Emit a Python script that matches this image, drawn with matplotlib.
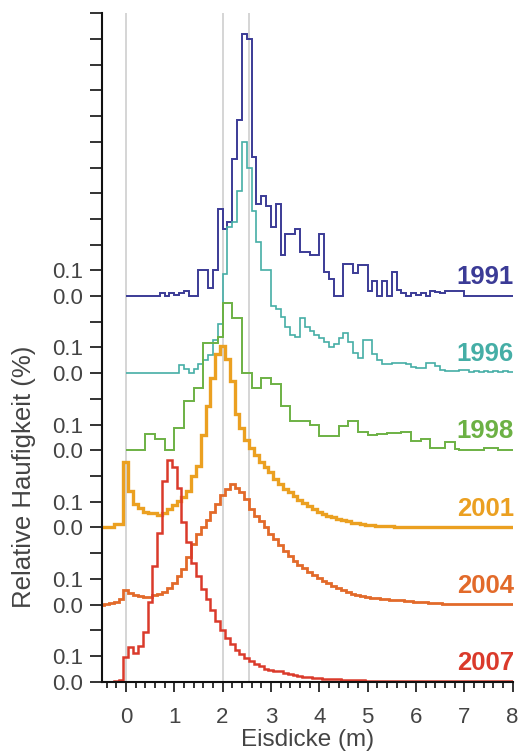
import numpy as np
import matplotlib
matplotlib.use("Agg")
import matplotlib.pyplot as plt

plt.rcParams['font.family'] = ['Liberation Sans', 'DejaVu Sans']

years = ["1991", "1996", "1998", "2001", "2004", "2007"]
offsets = [1.5, 1.2, 0.9, 0.6, 0.3, 0.0]
colors = ["#3b3b96", "#45aea6", "#6cb144", "#eba021", "#e26a2a", "#da3a2b"]
widths = [1.4, 1.2, 1.4, 2.4, 2.0, 1.8]

# bins of 0.1 m starting at 0.0 (1991, 1996, 1998)
start_a = 0.0
v1991 = [0, 0, 0, 0, 0, 0, 0,
         0.01, 0.0, 0.01, 0.005, 0.01, 0.02, 0.0, 0.0,
         0.10, 0.10, 0.03, 0.10, 0.34, 0.26, 0.29, 0.535, 0.684, 1.02,
         1.00, 0.54, 0.36, 0.39, 0.35, 0.27, 0.36, 0.16, 0.24, 0.24,
         0.26, 0.17, 0.17, 0.16, 0.16, 0.24, 0.095, 0.068, 0.0, 0.0,
         0.123, 0.123, 0.088, 0.12, 0.12, 0.02, 0.06, 0.0, 0.06, 0.0,
         0.095, 0.025, 0.01, 0.0, 0.01, 0.005, 0.01, 0.0, 0.02, 0.015,
         0.01, 0.02, 0.02, 0.02, 0.02,
         0, 0, 0, 0, 0, 0, 0, 0, 0, 0]
v1996 = [0, 0, 0, 0, 0, 0, 0, 0, 0, 0,
         0.0, 0.03, 0.015, 0.0, 0.015, 0.035, 0.05, 0.07, 0.13, 0.19,
         0.385, 0.57, 0.59, 0.71, 0.90, 0.80, 0.63, 0.51, 0.40, 0.40,
         0.26, 0.25, 0.22, 0.18, 0.15, 0.14, 0.215, 0.18, 0.165, 0.15,
         0.137, 0.12, 0.10, 0.115, 0.137, 0.157, 0.12, 0.08, 0.06, 0.131,
         0.131, 0.073, 0.05, 0.034, 0.034, 0.04, 0.04, 0.04, 0.034, 0.025,
         0.021, 0.021, 0.04, 0.04, 0.027, 0.014, 0.01, 0.008, 0.008, 0.014,
         0.014, 0.005, 0.01, 0.005, 0.01, 0.005, 0.01, 0.005, 0.01, 0.005]
v1998 = [0, 0, 0, 0,
         0.062, 0.062, 0.045, 0.045, 0.0, 0.0, 0.088, 0.088, 0.19, 0.19,
         0.243, 0.243, 0.418, 0.418, 0.418, 0.44, 0.574, 0.574, 0.516, 0.516,
         0.30, 0.30, 0.243, 0.243, 0.283, 0.283, 0.257, 0.257, 0.172, 0.172,
         0.114, 0.114, 0.114, 0.114, 0.098, 0.098, 0.056, 0.056, 0.056, 0.056,
         0.094, 0.094, 0.114, 0.114, 0.072, 0.072, 0.06, 0.06, 0.062, 0.062,
         0.066, 0.066, 0.066, 0.072, 0.072, 0.036, 0.036, 0.043, 0.043, 0.01,
         0.01, 0.01, 0.032, 0.032, 0.005, 0.0, 0.0, 0.0, 0.0, 0.0,
         0.01, 0.01, 0.01, 0.0, 0.0, 0.0]

# bins of 0.1 m centred on -0.5 ... 8.0 (2001, 2004, 2007)
start_b = -0.55
v2001 = [0, 0, 0, 0.012, 0.015, 0.253, 0.143, 0.09, 0.075, 0.062,
         0.058, 0.055, 0.05, 0.055, 0.07, 0.088, 0.104, 0.117, 0.143, 0.2,
         0.24, 0.36, 0.473, 0.58, 0.674, 0.707, 0.654, 0.57, 0.44, 0.387,
         0.34, 0.31, 0.28, 0.255, 0.235, 0.215, 0.19, 0.168, 0.149, 0.136,
         0.123, 0.105, 0.094, 0.082, 0.07, 0.06, 0.054, 0.046, 0.039, 0.033,
         0.028, 0.024, 0.019, 0.016, 0.012, 0.01, 0.008, 0.007, 0.006, 0.005,
         0.004, 0.003, 0.003, 0.003, 0.003, 0.003, 0.002, 0.002,
         0.001, 0.001, 0.001, 0.001, 0.001, 0.001, 0.001, 0.001, 0.001,
         0.001, 0.001, 0.001, 0.001, 0.001, 0.001, 0.001, 0.001, 0.001]
v2004 = [0.0, 0.003, 0.006, 0.01, 0.02, 0.058, 0.045, 0.038, 0.032, 0.03,
         0.03, 0.036, 0.042, 0.05, 0.065, 0.085, 0.11, 0.14, 0.185, 0.235,
         0.275, 0.3, 0.33, 0.36, 0.39, 0.425, 0.45, 0.469, 0.455, 0.436,
         0.41, 0.37, 0.345, 0.325, 0.3, 0.275, 0.255, 0.232, 0.21, 0.19,
         0.17, 0.155, 0.142, 0.128, 0.115, 0.102, 0.092, 0.083, 0.074, 0.065,
         0.056, 0.049, 0.043, 0.038, 0.034, 0.03, 0.027, 0.024, 0.022, 0.02,
         0.019, 0.018, 0.016, 0.014, 0.013, 0.011, 0.01, 0.009, 0.008, 0.006,
         0.005, 0.004, 0.004,
         0.003, 0.003, 0.003, 0.003, 0.003, 0.003, 0.003, 0.003,
         0.002, 0.002, 0.002, 0.002, 0.002]
v2007 = [0, 0, 0, 0.003, 0.008, 0.095, 0.136, 0.112, 0.14, 0.195,
         0.311, 0.45, 0.58, 0.78, 0.862, 0.836, 0.752, 0.62, 0.545, 0.46,
         0.41, 0.36, 0.32, 0.28, 0.235, 0.2, 0.17, 0.145, 0.125, 0.108,
         0.093, 0.08, 0.07, 0.06, 0.051, 0.045, 0.042, 0.04, 0.035, 0.031,
         0.027, 0.023, 0.02, 0.017, 0.015, 0.013, 0.012, 0.011, 0.01, 0.009,
         0.008, 0.007, 0.006, 0.005, 0.005, 0.004,
         0.003, 0.003, 0.003, 0.003, 0.003,
         0.002, 0.002, 0.002, 0.002, 0.002,
         0.001, 0.001, 0.001, 0.001, 0.001, 0.001, 0.001, 0.001, 0.001, 0.001,
         0.001, 0.001, 0.001, 0.001, 0.001, 0.001, 0.001, 0.001, 0.001, 0.001]

series = [v1991, v1996, v1998, v2001, v2004, v2007]
starts = [start_a, start_a, start_a, start_b, start_b, start_b]
bin_width = 0.1
ref_lines = [0.0, 2.0, 2.55]

fig = plt.figure(figsize=(5.24, 7.54), dpi=100)
ax = fig.add_axes([0.1941, 0.0959, 0.784, 0.8865])

for xv in ref_lines:
    ax.axvline(xv, color="#d2d2d2", lw=1.3, zorder=0)

for vals, st, off, col, lw, yr in zip(series, starts, offsets, colors, widths, years):
    vals = np.asarray(vals, dtype=float)
    edges = st + bin_width * np.arange(len(vals) + 1)
    ax.stairs(vals + off, edges, baseline=None, color=col, lw=lw, zorder=2)
    ax.text(8.03, off + 0.046, yr, color=col, fontsize=18.5, fontweight="bold",
            ha="right", va="baseline", zorder=3)

ax.set_xlim(-0.5, 8.0)
ax.set_ylim(0.0, 2.6)

yt = np.round(np.arange(0, 2.61, 0.1), 2)
labels = []
for t in yt:
    lab = ""
    for off in offsets:
        if abs(t - off) < 1e-6:
            lab = "0.0"
        elif abs(t - off - 0.1) < 1e-6:
            lab = "0.1"
    labels.append(lab)
ax.set_yticks(yt)
ax.set_yticklabels(labels)

ax.set_xticks(np.arange(0, 9, 1))
ax.set_xticks(np.round(np.arange(-0.4, 8.01, 0.2), 2), minor=True)

for s in ["top", "right"]:
    ax.spines[s].set_visible(False)
for s in ["left", "bottom"]:
    ax.spines[s].set_linewidth(1.5)
    ax.spines[s].set_color("#111111")

ax.tick_params(axis="y", which="major", length=8.5, width=1.2, pad=5,
               labelsize=16, labelcolor="#444444", color="#111111")
ax.tick_params(axis="x", which="major", length=7.5, width=1.2, pad=11,
               labelsize=16, labelcolor="#444444", color="#111111")
ax.tick_params(axis="x", which="minor", length=4, width=1.2, color="#111111")

ax.set_xlabel("Eisdicke (m)", fontsize=17.5, color="#444444")
ax.xaxis.label.set_va("center")
ax.xaxis.set_label_coords(0.5, -0.087)
ax.set_ylabel("Relative Haufigkeit (%)", fontsize=18.5, color="#444444")
ax.yaxis.label.set_va("center")
ax.yaxis.set_label_coords(-0.19, 0.306)

fig.savefig("out.png", dpi=100)
